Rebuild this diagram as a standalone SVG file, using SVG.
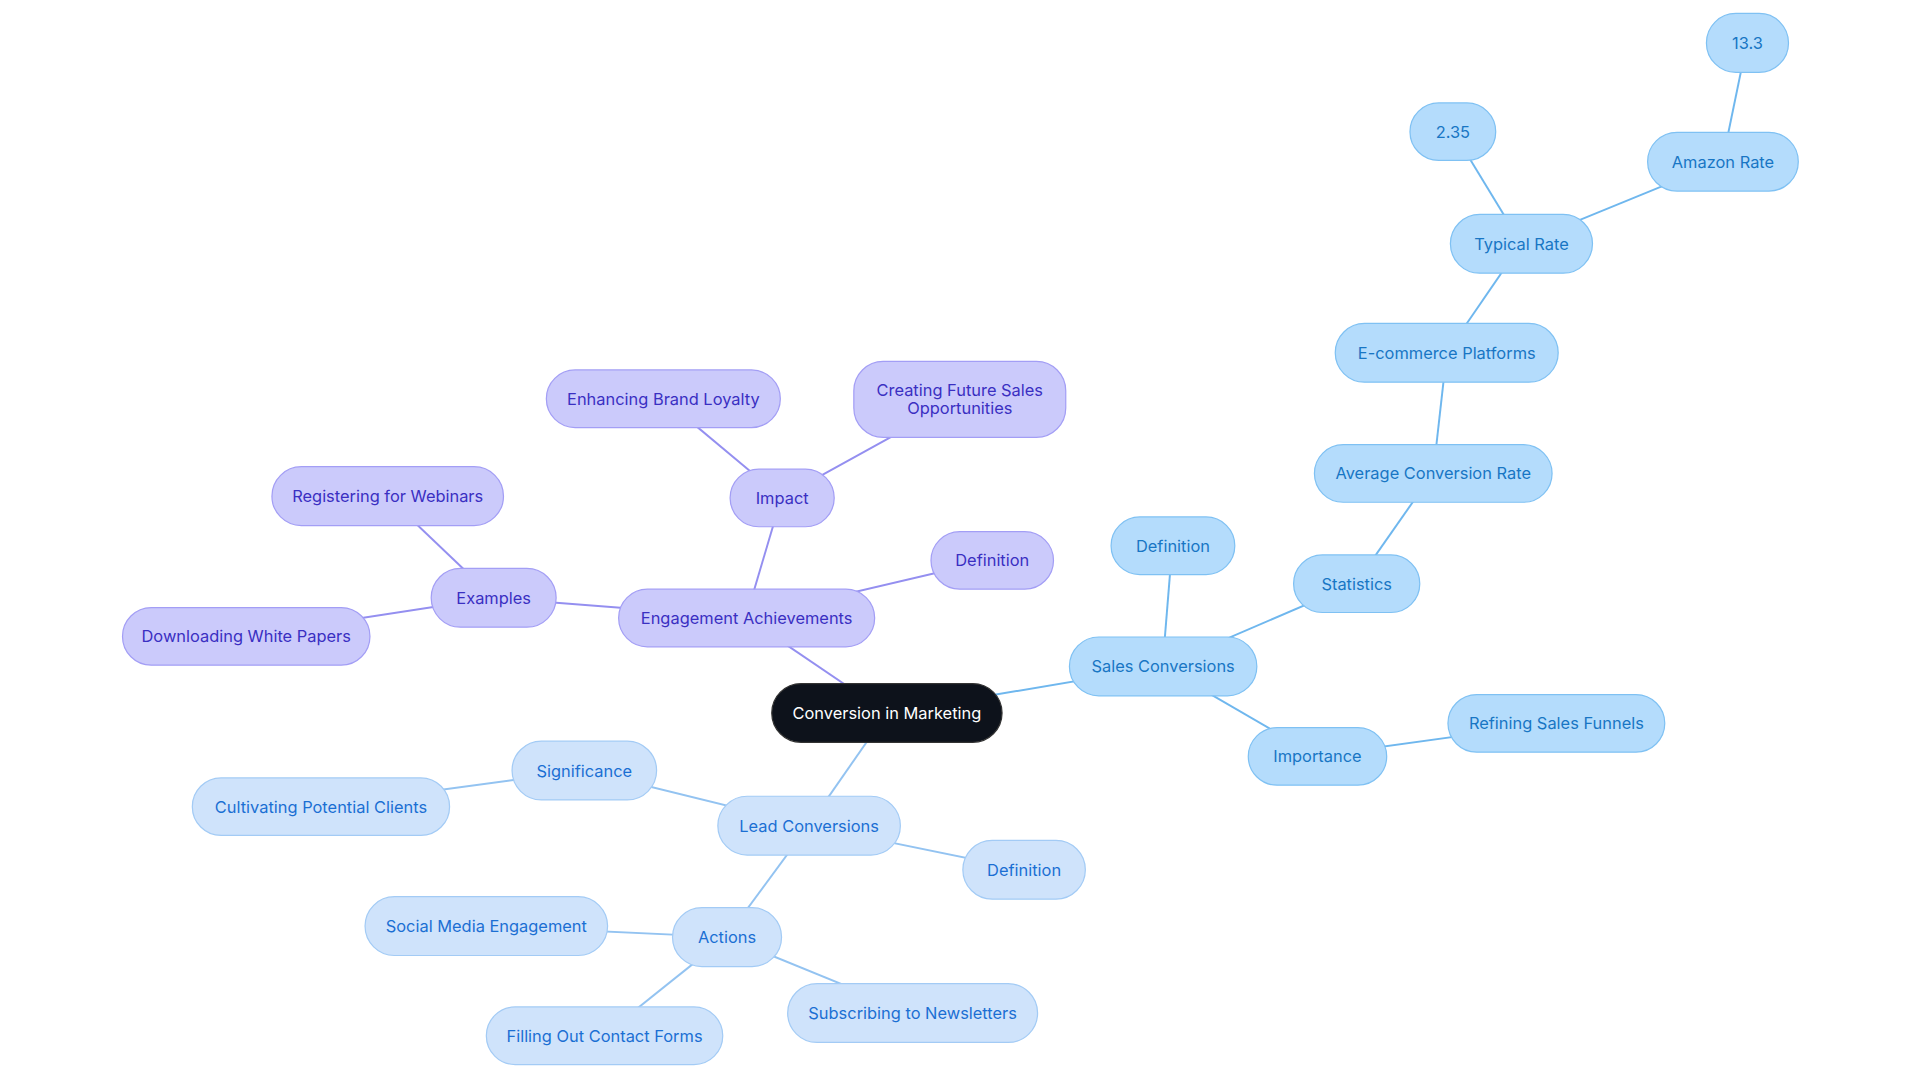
<svg xmlns="http://www.w3.org/2000/svg" width="1920" height="1083" viewBox="0 0 1920 1083">
<style>
text{font-family:Inter,"Noto Sans",sans-serif;font-size:13.4px;text-anchor:middle;dominant-baseline:central}
.p rect{fill:#cbcafb;stroke:#a39ef5;stroke-width:1}
.p text{fill:#3a2fc2}
.l rect{fill:#cfe3fb;stroke:#a3cbf5;stroke-width:1}
.l text{fill:#1b6fd3}
.s rect{fill:#b4dcfc;stroke:#7fc1f3;stroke-width:1}
.s text{fill:#1876c4}
.c rect{fill:#0d121b;stroke:#333}
.c text{fill:#fff}
#edges line{stroke-width:1.6}
.ep{stroke:#948ff0}.el{stroke:#93c3f1}.es{stroke:#6fb7ee}
</style>
<rect width="1920" height="1083" fill="#fff"/>
<g transform="scale(1.225)">
<g id="edges">
<line class="ep" x1="724" y1="582" x2="609" y2="504"/>
<line class="ep" x1="609" y1="504" x2="810" y2="457"/>
<line class="ep" x1="609" y1="504" x2="638" y2="406"/>
<line class="ep" x1="638" y1="406" x2="541" y2="325"/>
<line class="ep" x1="638" y1="406" x2="783" y2="326"/>
<line class="ep" x1="609" y1="504" x2="403" y2="488"/>
<line class="ep" x1="403" y1="488" x2="316" y2="405"/>
<line class="ep" x1="403" y1="488" x2="201" y2="519"/>
<line class="es" x1="724" y1="582" x2="949" y2="544"/>
<line class="es" x1="949" y1="544" x2="957" y2="445"/>
<line class="es" x1="949" y1="544" x2="1107" y2="476"/>
<line class="es" x1="1107" y1="476" x2="1170" y2="386"/>
<line class="es" x1="1170" y1="386" x2="1181" y2="288"/>
<line class="es" x1="1181" y1="288" x2="1242" y2="199"/>
<line class="es" x1="1242" y1="199" x2="1186" y2="107"/>
<line class="es" x1="1242" y1="199" x2="1406" y2="132"/>
<line class="es" x1="1406" y1="132" x2="1426" y2="35"/>
<line class="es" x1="949" y1="544" x2="1075" y2="617"/>
<line class="es" x1="1075" y1="617" x2="1270" y2="590"/>
<line class="el" x1="724" y1="582" x2="660" y2="674"/>
<line class="el" x1="660" y1="674" x2="836" y2="710"/>
<line class="el" x1="660" y1="674" x2="477" y2="629"/>
<line class="el" x1="477" y1="629" x2="262" y2="658"/>
<line class="el" x1="660" y1="674" x2="593" y2="765"/>
<line class="el" x1="593" y1="765" x2="397" y2="756"/>
<line class="el" x1="593" y1="765" x2="493" y2="845"/>
<line class="el" x1="593" y1="765" x2="745" y2="827"/>
</g>
<g id="n-center" class="c"><rect x="630" y="558" width="188" height="48" rx="24"/><text x="724" y="582">Conversion in Marketing</text></g>
<g id="n-engagement" class="p"><rect x="505" y="481" width="209" height="47" rx="23.5"/><text x="609.5" y="504.5">Engagement Achievements</text></g>
<g id="n-eng-def" class="p"><rect x="760" y="434" width="100" height="47" rx="23.5"/><text x="810" y="457.5">Definition</text></g>
<g id="n-impact" class="p"><rect x="596" y="383" width="85" height="47" rx="23.5"/><text x="638.5" y="406.5">Impact</text></g>
<g id="n-brand" class="p"><rect x="446" y="302" width="191" height="47" rx="23.5"/><text x="541.5" y="325.5">Enhancing Brand Loyalty</text></g>
<g id="n-future" class="p"><rect x="697" y="295" width="173" height="62" rx="24"/><text x="783.5" y="318">Creating Future Sales</text><text x="783.5" y="333">Opportunities</text></g>
<g id="n-examples" class="p"><rect x="352" y="464" width="102" height="48" rx="24"/><text x="403" y="488">Examples</text></g>
<g id="n-webinars" class="p"><rect x="222" y="381" width="189" height="48" rx="24"/><text x="316.5" y="405">Registering for Webinars</text></g>
<g id="n-white" class="p"><rect x="100" y="496" width="202" height="47" rx="23.5"/><text x="201" y="519.5">Downloading White Papers</text></g>
<g id="n-sales" class="s"><rect x="873" y="520" width="153" height="48" rx="24"/><text x="949.5" y="544">Sales Conversions</text></g>
<g id="n-sales-def" class="s"><rect x="907" y="422" width="101" height="47" rx="23.5"/><text x="957.5" y="445.5">Definition</text></g>
<g id="n-stats" class="s"><rect x="1056" y="453" width="103" height="47" rx="23.5"/><text x="1107.5" y="476.5">Statistics</text></g>
<g id="n-avg" class="s"><rect x="1073" y="363" width="194" height="47" rx="23.5"/><text x="1170" y="386.5">Average Conversion Rate</text></g>
<g id="n-ecom" class="s"><rect x="1090" y="264" width="182" height="48" rx="24"/><text x="1181" y="288">E-commerce Platforms</text></g>
<g id="n-typical" class="s"><rect x="1184" y="175" width="116" height="48" rx="24"/><text x="1242" y="199">Typical Rate</text></g>
<g id="n-235" class="s"><rect x="1151" y="84" width="70" height="47" rx="23.5"/><text x="1186" y="107.5">2.35</text></g>
<g id="n-amazon" class="s"><rect x="1345" y="108" width="123" height="48" rx="24"/><text x="1406.5" y="132">Amazon Rate</text></g>
<g id="n-133" class="s"><rect x="1393" y="11" width="67" height="48" rx="24"/><text x="1426.5" y="35">13.3</text></g>
<g id="n-importance" class="s"><rect x="1019" y="594" width="113" height="47" rx="23.5"/><text x="1075.5" y="617.5">Importance</text></g>
<g id="n-funnels" class="s"><rect x="1182" y="567" width="177" height="47" rx="23.5"/><text x="1270.5" y="590.5">Refining Sales Funnels</text></g>
<g id="n-lead" class="l"><rect x="586" y="650" width="149" height="48" rx="24"/><text x="660.5" y="674">Lead Conversions</text></g>
<g id="n-lead-def" class="l"><rect x="786" y="686" width="100" height="48" rx="24"/><text x="836" y="710">Definition</text></g>
<g id="n-signif" class="l"><rect x="418" y="605" width="118" height="48" rx="24"/><text x="477" y="629">Significance</text></g>
<g id="n-cultivating" class="l"><rect x="157" y="635" width="210" height="47" rx="23.5"/><text x="262" y="658.5">Cultivating Potential Clients</text></g>
<g id="n-actions" class="l"><rect x="549" y="741" width="89" height="48" rx="24"/><text x="593.5" y="765">Actions</text></g>
<g id="n-social" class="l"><rect x="298" y="732" width="198" height="48" rx="24"/><text x="397" y="756">Social Media Engagement</text></g>
<g id="n-forms" class="l"><rect x="397" y="822" width="193" height="47" rx="23.5"/><text x="493.5" y="845.5">Filling Out Contact Forms</text></g>
<g id="n-news" class="l"><rect x="643" y="803" width="204" height="48" rx="24"/><text x="745" y="827">Subscribing to Newsletters</text></g>
</g>
</svg>
